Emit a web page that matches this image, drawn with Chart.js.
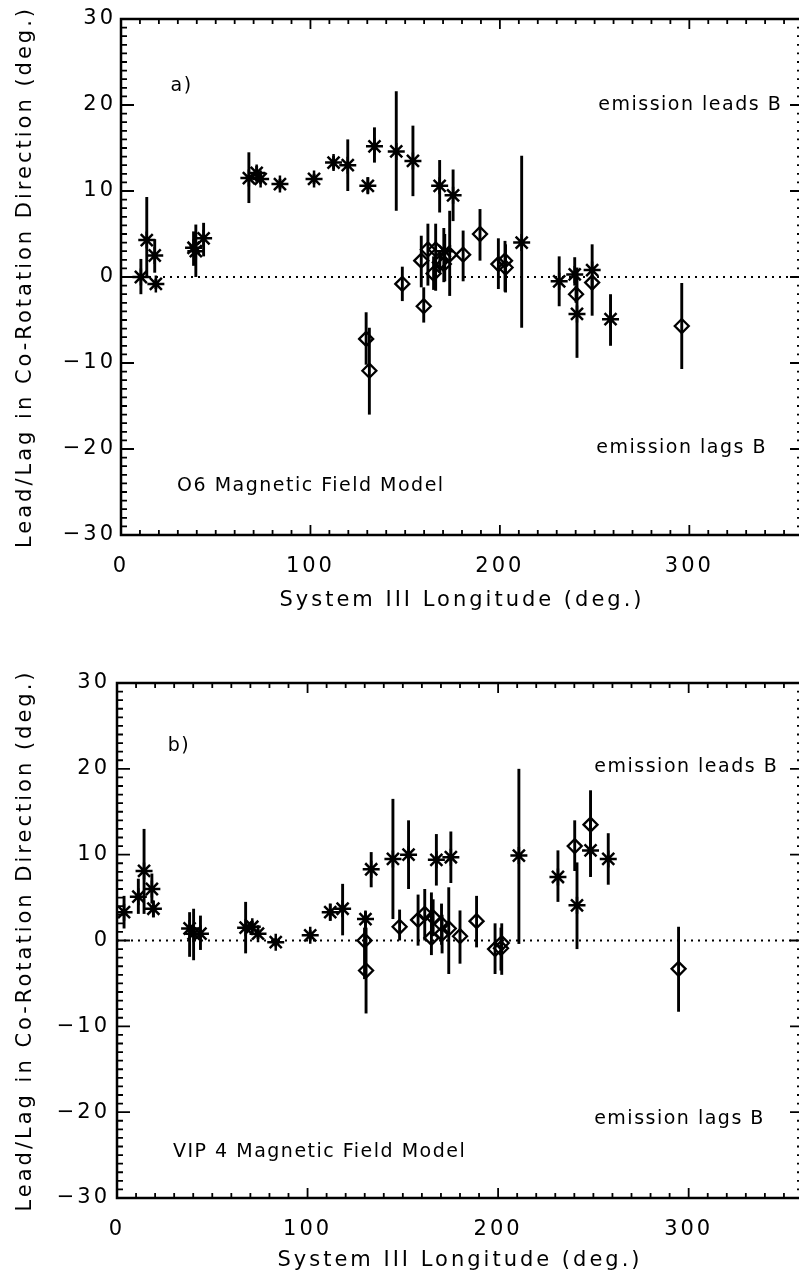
<!DOCTYPE html>
<html>
<head>
<meta charset="utf-8">
<script src="https://cdn.jsdelivr.net/npm/chart.js@4.4.0/dist/chart.umd.min.js"></script>
<style>
  html, body { margin: 0; padding: 0; background: #fff; width: 799px; height: 1277px; overflow: hidden; }
  .panel { position: absolute; left: 0; }
  #panelA { top: 0; }
  #panelB { top: 640px; }
</style>
</head>
<body>
<div class="panel" id="panelA"><canvas id="wykresA" width="820" height="640"></canvas></div>
<div class="panel" id="panelB"><canvas id="wykresB" width="820" height="637"></canvas></div>
<script>
const xTicks = [0, 100, 200, 300];
const yTicks = [-30, -20, -10, 0, 10, 20, 30];

// a) O6 model - gwiazdki
const o6StarLon = [10.5, 13.6, 17.8, 18.4, 38.3, 39.5, 43.6, 67.5, 71.6, 73.7, 83.9, 101.9, 112.2, 119.7, 130.3, 133.8, 145.3, 154.1, 168.2, 175.3, 170.9, 211.5, 231.3, 239.5, 240.7, 248.7, 258.4];
const o6StarVal = [0.0, 4.3, 2.5, -0.8, 3.4, 3.0, 4.5, 11.5, 12.1, 11.4, 10.8, 11.4, 13.3, 13.0, 10.6, 15.2, 14.6, 13.5, 10.6, 9.5, 3.0, 4.0, -0.5, 0.3, -4.3, 0.8, -4.9];
const o6StarLo = [-2.0, 0.0, 0.5, -1.4, 1.3, 0.0, 2.4, 8.6, 11.1, 10.8, 10.2, 10.8, 12.5, 10.0, 9.7, 13.3, 7.7, 9.4, 7.5, 6.5, -0.5, -5.9, -3.4, -1.0, -9.4, -4.5, -8.0];
const o6StarHi = [2.1, 9.3, 4.4, -0.2, 5.3, 6.1, 6.3, 14.5, 12.9, 12.0, 11.4, 12.0, 14.1, 16.0, 11.6, 17.4, 21.6, 17.6, 13.6, 12.5, 5.0, 14.1, 2.4, 2.3, 1.1, 3.8, -2.0];
// a) O6 model - romby
const o6DiaLon = [129.4, 131.1, 148.5, 158.5, 159.8, 162.0, 165.0, 166.1, 168.3, 170.4, 173.5, 180.6, 189.5, 199.2, 202.7, 203.0, 240.2, 248.7, 296.0];
const o6DiaVal = [-7.2, -10.9, -0.8, 1.9, -3.4, 3.2, 0.4, 3.2, 1.7, 1.5, 2.6, 2.6, 5.0, 1.5, 1.9, 1.1, -2.0, -0.65, -5.7];
const o6DiaLo = [-10.2, -16.0, -2.8, -1.2, -5.3, -1.0, -1.5, -1.6, 0.5, -0.6, -2.2, -0.5, 1.9, -1.4, -1.7, -1.8, -3.0, -1.5, -10.7];
const o6DiaHi = [-4.1, -5.9, 1.2, 4.8, -1.2, 6.2, 2.4, 6.2, 3.0, 5.7, 7.7, 5.4, 7.9, 4.5, 4.2, 3.8, -1.0, 0.2, -0.7];

// b) VIP4 model - gwiazdki
const vipStarLon = [3.7, 11.2, 14.2, 18.3, 19.1, 38.1, 40.2, 43.8, 67.5, 71.0, 74.0, 83.3, 101.4, 111.9, 118.4, 130.4, 133.4, 144.8, 153.0, 167.6, 175.2, 210.9, 231.4, 241.4, 248.5, 257.8];
const vipStarVal = [3.3, 5.1, 8.1, 6.0, 3.7, 1.4, 0.8, 0.8, 1.5, 1.6, 0.8, -0.2, 0.6, 3.3, 3.7, 2.5, 8.3, 9.5, 10.0, 9.4, 9.7, 9.9, 7.4, 4.1, 10.5, 9.5];
const vipStarLo = [1.4, 3.1, 3.1, 4.3, 2.7, -1.9, -2.3, -1.1, -1.5, 0.9, 0.2, -0.7, 0.0, 2.3, 0.6, 1.0, 6.2, 2.5, 6.0, 6.4, 6.7, -0.4, 4.5, -1.0, 7.4, 6.5];
const vipStarHi = [5.2, 7.2, 13.0, 7.8, 4.6, 3.3, 3.7, 2.9, 4.5, 2.3, 1.4, 0.3, 1.2, 4.3, 6.6, 3.4, 10.3, 16.5, 14.0, 12.4, 12.7, 20.0, 10.5, 9.1, 14.3, 12.5];
// b) VIP4 model - romby
const vipDiaLon = [129.9, 130.7, 148.3, 158.0, 161.5, 165.0, 165.9, 170.3, 170.6, 174.1, 180.0, 188.7, 198.4, 201.9, 201.5, 240.2, 248.5, 294.7];
const vipDiaVal = [0.0, -3.5, 1.6, 2.4, 3.1, 0.3, 2.7, 1.9, 0.8, 1.4, 0.5, 2.25, -1.0, -0.3, -0.9, 11.0, 13.5, -3.3];
const vipDiaLo = [-4.5, -8.5, 0.0, -0.6, 0.0, -1.7, 0.5, -0.5, -1.5, -3.9, -2.7, -0.8, -3.9, -4.0, -3.5, 8.1, 9.8, -8.3];
const vipDiaHi = [1.5, 1.5, 3.6, 5.35, 6.0, 5.6, 4.8, 4.3, 3.0, 6.2, 3.5, 5.2, 2.0, 2.0, 1.5, 14.0, 17.5, 1.6];

const czcionka = 'DejaVu Sans';

function punkty(lon, val) {
  return lon.map((x, i) => ({ x, y: val[i] }));
}

function minus(v) {
  return v < 0 ? '\u2212' + Math.abs(v) : String(v);
}

// odstepy miedzy literami jak w oryginale
const odstepy = {
  id: 'odstepy',
  beforeUpdate(chart) { chart.ctx.letterSpacing = '3px'; },
  beforeDraw(chart) { chart.ctx.letterSpacing = '3px'; }
};

// slupki bledow
const slupki = {
  id: 'slupki',
  beforeDatasetsDraw(chart) {
    const { ctx, scales: { x, y } } = chart;
    ctx.save();
    ctx.strokeStyle = '#000';
    ctx.lineWidth = 2.9;
    chart.data.datasets.forEach(ds => {
      if (!ds.errLo) return;
      ds.data.forEach((p, i) => {
        const px = x.getPixelForValue(p.x);
        ctx.beginPath();
        ctx.moveTo(px, y.getPixelForValue(ds.errLo[i]));
        ctx.lineTo(px, y.getPixelForValue(ds.errHi[i]));
        ctx.stroke();
      });
    });
    ctx.restore();
  }
};

// ramka z kreskami do srodka + napisy
const ramka = {
  id: 'ramka',
  afterDraw(chart, args, opts) {
    const { ctx, chartArea: { left, right, top, bottom }, scales: { x, y } } = chart;
    ctx.save();
    ctx.strokeStyle = '#000';
    ctx.lineWidth = 2.5;
    ctx.beginPath();
    ctx.moveTo(right, top); ctx.lineTo(left, top); ctx.lineTo(left, bottom); ctx.lineTo(right, bottom); ctx.lineTo(right, top);
    ctx.stroke();

    ctx.lineWidth = 1.8;
    ctx.beginPath();
    for (let v = 0; v <= 360; v += 10) {
      const px = x.getPixelForValue(v);
      const len = v % 100 === 0 ? 10 : 5;
      ctx.moveTo(px, bottom); ctx.lineTo(px, bottom - len);
      ctx.moveTo(px, top); ctx.lineTo(px, top + len);
    }
    for (let v = -30; v <= 30; v += 1) {
      const py = y.getPixelForValue(v);
      const len = v % 10 === 0 ? 13 : 6;
      ctx.moveTo(left, py); ctx.lineTo(left + len, py);
      ctx.moveTo(right, py); ctx.lineTo(right - len, py);
    }
    ctx.stroke();

    ctx.fillStyle = '#000';
    ctx.textBaseline = 'middle';
    ctx.letterSpacing = '1.5px';
    (opts.napisy || []).forEach(n => {
      ctx.font = n.size + 'px "' + czcionka + '"';
      ctx.textAlign = n.align;
      ctx.fillText(n.text, x.getPixelForValue(n.x), y.getPixelForValue(n.y));
    });
    ctx.restore();
  }
};

function zrobWykres(id, d) {
  const ctx = document.getElementById(id).getContext('2d');
  return new Chart(ctx, {
    type: 'scatter',
    data: {
      datasets: [
        {
          data: [{ x: 0, y: 0 }, { x: 360, y: 0 }],
          showLine: true,
          borderColor: '#000',
          borderWidth: 2,
          borderDash: [2, 5],
          pointRadius: 0
        },
        {
          data: punkty(d.starLon, d.starVal),
          errLo: d.starLo,
          errHi: d.starHi,
          pointStyle: 'star',
          pointRadius: 8.5,
          borderColor: '#000',
          borderWidth: 2.5,
          backgroundColor: 'rgba(0,0,0,0)'
        },
        {
          data: punkty(d.diaLon, d.diaVal),
          errLo: d.diaLo,
          errHi: d.diaHi,
          pointStyle: 'rectRot',
          pointRadius: 7,
          borderColor: '#000',
          borderWidth: 2.3,
          backgroundColor: 'rgba(0,0,0,0)'
        }
      ]
    },
    options: {
      responsive: false,
      animation: false,
      events: [],
      layout: { padding: { top: d.top, right: 17, left: 0, bottom: 0 } },
      plugins: {
        legend: { display: false },
        tooltip: { enabled: false },
        ramka: { napisy: d.napisy }
      },
      scales: {
        x: {
          type: 'linear',
          min: 0,
          max: 360,
          afterBuildTicks: s => { s.ticks = xTicks.map(v => ({ value: v })); },
          afterFit: s => { s.height = d.xHeight; },
          grid: { display: false, drawTicks: false },
          border: { display: false },
          ticks: { color: '#000', padding: 19, maxRotation: 0, font: { family: czcionka, size: 21 } },
          title: {
            display: true,
            text: 'System III Longitude (deg.)',
            color: '#000',
            font: { family: czcionka, size: 21 },
            padding: { top: 0, bottom: d.xTitlePad }
          }
        },
        y: {
          type: 'linear',
          min: -30,
          max: 30,
          afterBuildTicks: s => { s.ticks = yTicks.map(v => ({ value: v })); },
          afterFit: s => { s.width = d.yWidth; },
          grid: { display: false, drawTicks: false },
          border: { display: false },
          ticks: { color: '#000', padding: d.yPad, font: { family: czcionka, size: 21 }, callback: v => minus(v) },
          title: {
            display: true,
            text: 'Lead/Lag in Co-Rotation Direction (deg.)',
            color: '#000',
            font: { family: czcionka, size: 21 },
            padding: { top: 13, bottom: 0 }
          }
        }
      }
    },
    plugins: [odstepy, slupki, ramka]
  });
}

window.onload = () => {
  zrobWykres('wykresA', {
    starLon: o6StarLon, starVal: o6StarVal, starLo: o6StarLo, starHi: o6StarHi,
    diaLon: o6DiaLon, diaVal: o6DiaVal, diaLo: o6DiaLo, diaHi: o6DiaHi,
    top: 19, xHeight: 105, yWidth: 121, yPad: 5, xTitlePad: 27,
    napisy: [
      { text: 'a)', x: 32, y: 22.2, size: 19, align: 'center' },
      { text: 'emission leads B', x: 349, y: 20, size: 19, align: 'right' },
      { text: 'emission lags B', x: 341, y: -19.9, size: 19, align: 'right' },
      { text: 'O6 Magnetic Field Model', x: 29.6, y: -24.3, size: 19, align: 'left' }
    ]
  });

  zrobWykres('wykresB', {
    starLon: vipStarLon, starVal: vipStarVal, starLo: vipStarLo, starHi: vipStarHi,
    diaLon: vipDiaLon, diaVal: vipDiaVal, diaLo: vipDiaLo, diaHi: vipDiaHi,
    top: 43, xHeight: 79, yWidth: 117, yPad: 7, xTitlePad: 4,
    napisy: [
      { text: 'b)', x: 32.5, y: 22.6, size: 19, align: 'center' },
      { text: 'emission leads B', x: 347, y: 20.2, size: 19, align: 'right' },
      { text: 'emission lags B', x: 340, y: -20.8, size: 19, align: 'right' },
      { text: 'VIP 4 Magnetic Field Model', x: 29.4, y: -24.65, size: 19, align: 'left' }
    ]
  });
};
</script>
</body>
</html>
